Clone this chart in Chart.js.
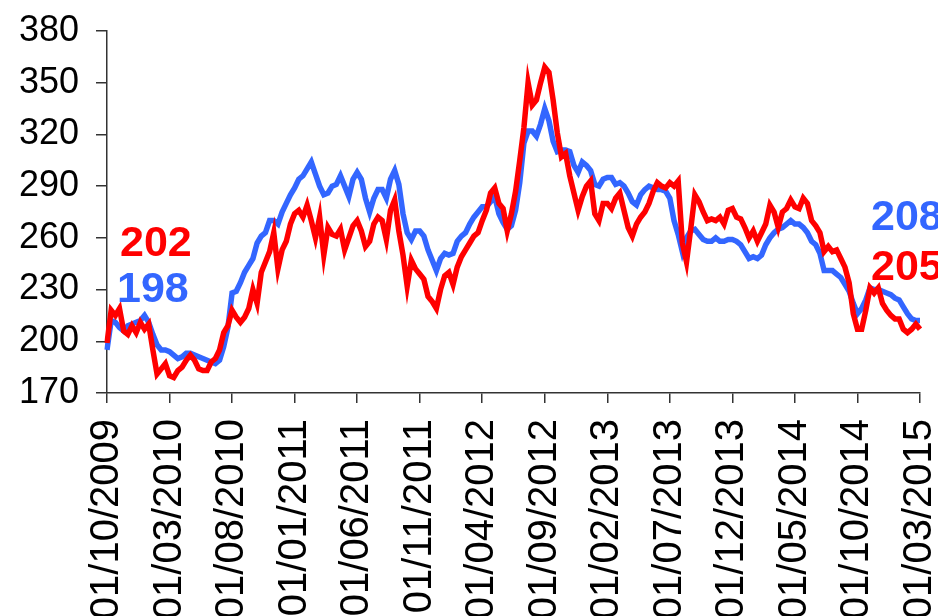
<!DOCTYPE html>
<html>
<head>
<meta charset="utf-8">
<script src="https://cdn.jsdelivr.net/npm/chart.js@4/dist/chart.umd.min.js"></script>
<style>
  html, body { margin: 0; padding: 0; background: #fff; }
  #wrap { width: 938px; height: 616px; position: relative; }
</style>
</head>
<body>
<div id="wrap"><canvas id="chart"></canvas></div>
<script>
// three points a month (1st, 11th, 21st), 01/10/2009 .. 01/03/2015
const tickLabels = ["01/10/2009", "01/03/2010", "01/08/2010", "01/01/2011", "01/06/2011", "01/11/2011",
  "01/04/2012", "01/09/2012", "01/02/2013", "01/07/2013", "01/12/2013", "01/05/2014", "01/10/2014", "01/03/2015"]
const pointsPerTick = 15

const redSeries = [
  199, 218, 215, 219, 206, 204, 209, 205, 211, 207,
  210, 195, 181, 184, 187, 180, 179, 183, 185, 189,
  192, 189, 184, 183, 183, 188, 190, 195, 205, 209,
  218, 214, 211, 214, 219, 230, 222, 240, 246, 252,
  263, 242, 253, 258, 268, 274, 276, 272, 279, 270,
  260, 272, 250, 266, 262, 261, 265, 253, 260, 267,
  270, 264, 255, 258, 268, 272, 270, 259, 276, 282,
  264, 250, 232, 247, 242, 239, 236, 226, 223, 219,
  230, 238, 240, 233, 243, 249, 253, 257, 261, 263,
  270, 276, 286, 289, 280, 277, 264, 274, 287, 305,
  324, 350, 337, 340, 350, 359, 356, 340, 321, 307,
  309, 296, 286, 276, 284, 290, 293, 274, 270, 280,
  280, 277, 283, 286, 276, 266, 261, 268, 272, 275,
  280, 287, 292, 290, 289, 292, 290, 293, 257, 246,
  265, 285, 281, 275, 270, 271, 270, 272, 268, 276,
  277, 272, 271, 266, 260, 264, 258, 263, 268, 279,
  275, 266, 275, 277, 282, 278, 277, 283, 280, 270,
  267, 263, 252, 255, 252, 253, 248, 243, 234, 216,
  207, 207, 218, 231, 228, 231, 222, 218, 215, 213,
  213, 207, 205, 207, 210, 207
]

const blueSeries = [
  195, 212, 211, 208, 206, 209, 210, 211, 212, 215,
  211, 204, 198, 195, 195, 194, 192, 190, 191, 193,
  193, 192, 191, 190, 189, 188, 187, 189, 197, 208,
  228, 229, 234, 240, 244, 248, 257, 261, 263, 270,
  270, 268, 275, 280, 285, 289, 294, 296, 300, 304,
  297, 290, 285, 286, 290, 291, 296, 290, 284, 294,
  298, 294, 283, 275, 283, 288, 288, 283, 294, 299,
  291, 274, 263, 259, 264, 264, 261, 253, 247, 241,
  248, 251, 250, 251, 258, 261, 263, 268, 272, 275,
  278, 278, 281, 284, 274, 269, 265, 267, 276, 292,
  315, 322, 322, 319, 326, 335, 328, 316, 310, 311,
  311, 310, 302, 298, 304, 302, 299, 291, 290, 294,
  295, 295, 291, 292, 290, 286, 281, 279, 285, 288,
  290, 289, 288, 288, 287, 283, 270, 262, 252, 260,
  264, 265, 262, 259, 258, 258, 260, 258, 258, 259,
  259, 258, 256, 252, 248, 249, 248, 250, 256, 260,
  263, 265, 266, 268, 270, 268, 268, 266, 263, 258,
  256, 251, 241, 241, 241, 239, 237, 233, 229, 222,
  216, 219, 224, 231, 230, 230, 229, 228, 227, 225,
  224, 220, 216, 213, 212, 212
]

const categories = []
for (let i = 0; i < redSeries.length; i++) {
  const m = 9 + Math.floor(i / 3)
  const year = 2009 + Math.floor(m / 12)
  const month = String(m % 12 + 1).padStart(2, "0")
  categories.push(["01", "11", "21"][i % 3] + "/" + month + "/" + year)
}

const RED = "#ff0000"
const BLUE = "#3366ff"

// start / end values written on the chart
const endLabels = {
  id: "endLabels",
  afterDraw(chart) {
    const ctx = chart.ctx
    ctx.save()
    ctx.font = "bold 43px 'Liberation Sans', Arial, sans-serif"
    ctx.textAlign = "left"
    ctx.textBaseline = "alphabetic"
    ctx.fillStyle = RED
    ctx.fillText("202", 120, 256)
    ctx.fillText("205", 871, 280)
    ctx.fillStyle = BLUE
    ctx.fillText("198", 117, 302)
    ctx.fillText("208", 871, 230)
    ctx.restore()
  }
}

new Chart(document.getElementById("chart"), {
  type: "line",
  data: {
    labels: categories,
    datasets: [
      { data: redSeries, borderColor: RED, borderWidth: 5.5, pointRadius: 0, tension: 0 },
      { data: blueSeries, borderColor: BLUE, borderWidth: 5.5, pointRadius: 0, tension: 0 }
    ]
  },
  options: {
    responsive: true,
    maintainAspectRatio: false,
    animation: false,
    layout: { padding: { top: 31, right: 18, left: 0, bottom: 0 } },
    plugins: { legend: { display: false }, tooltip: { enabled: false } },
    scales: {
      x: {
        type: "category",
        offset: false,
        border: { display: true, color: "#333", width: 1.5 },
        grid: { drawOnChartArea: false, drawTicks: true, tickLength: 10, color: "#333", lineWidth: 1.5 },
        ticks: {
          autoSkip: false,
          maxRotation: 90,
          minRotation: 90,
          padding: 16,
          color: "#000",
          font: { family: "'Liberation Sans', Arial, sans-serif", size: 40 },
          callback: (val, idx) => idx % pointsPerTick === 0 ? tickLabels[idx / pointsPerTick] : null
        },
        afterFit: (scale) => {
          scale.height = 223
          scale.paddingLeft = 0
          scale.paddingRight = 0
        }
      },
      y: {
        min: 170,
        max: 380,
        border: { display: true, color: "#333", width: 1.5 },
        grid: { drawOnChartArea: false, drawTicks: true, tickLength: 11, color: "#333", lineWidth: 1.5 },
        ticks: {
          stepSize: 30,
          padding: 17,
          color: "#000",
          font: { family: "'Liberation Sans', Arial, sans-serif", size: 36 }
        },
        afterFit: (scale) => {
          scale.width = 107
          scale.paddingTop = 0
          scale.paddingBottom = 0
        }
      }
    }
  },
  plugins: [endLabels]
})
</script>
</body>
</html>
